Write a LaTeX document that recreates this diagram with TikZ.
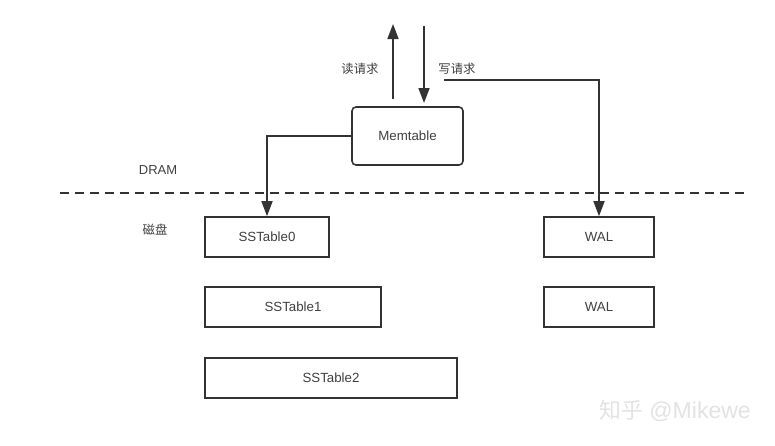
\documentclass[tikz,border=0pt]{standalone}
\usepackage{fontspec}
\setmainfont{Liberation Sans}
\newfontfamily\cjk{Noto Sans CJK SC}[Scale=0.95]
\usetikzlibrary{arrows.meta}
\definecolor{ln}{HTML}{333333}
\definecolor{tx}{HTML}{404040}
\begin{document}
\begin{tikzpicture}[x=1pt,y=-1pt,
  box/.style={draw=ln,line width=1.6pt,minimum height=40pt,inner sep=0pt,text=tx,font=\fontsize{13.3}{15}\selectfont},
  lab/.style={text=tx,font=\fontsize{13}{15}\selectfont,inner sep=0pt},
  conn/.style={draw=ln,line width=1.6pt},
  tip/.style={-{Triangle[length=15pt,width=11pt]}}]
\useasboundingbox (0,0) rectangle (775,445);
\fill[white] (0,0) rectangle (775,445);
% nodes
\node[box,rounded corners=4pt,minimum width=111pt,minimum height=58pt] (mem) at (407.5,136) {Memtable};
\node[box,minimum width=124pt] (ss0) at (267,237) {SSTable0};
\node[box,minimum width=176pt] (ss1) at (293,307) {SSTable1};
\node[box,minimum width=252pt] (ss2) at (331,378) {SSTable2};
\node[box,minimum width=110pt] (wal1) at (599,237) {WAL};
\node[box,minimum width=110pt] (wal2) at (599,307) {WAL};
% labels
\node[lab] (rd) at (360,69) {\cjk 读请求};
\node[lab] (wr) at (457,69) {\cjk 写请求};
\node[lab] (dram) at (158,170) {DRAM};
\node[lab] (disk) at (155,230) {\cjk 磁盘};
\node[text=gray!22,font=\fontsize{23}{26}\selectfont,inner sep=0pt] (wm) at (675,411) {{\cjk 知乎} @Mikewe};
% coordinates
\coordinate (rdS) at (393,99);
\coordinate (rdE) at (393,24);
\coordinate (wrS) at (424,26);
\coordinate (wrE) at (424,103);
\coordinate (wS) at (444,80);
\coordinate (dL) at (60,193);
\coordinate (dR) at (746,193);
% connectors
\draw[conn,tip] (rdS) -- (rdE);
\draw[conn,tip] (wrS) -- (wrE);
\draw[conn,tip] (wS) -| (wal1.north);
\draw[conn,tip] (mem.west) -| (ss0.north);
\draw[ln,line width=1.6pt,dash pattern=on 9pt off 6pt] (dL) -- (dR);
\end{tikzpicture}
\end{document}
